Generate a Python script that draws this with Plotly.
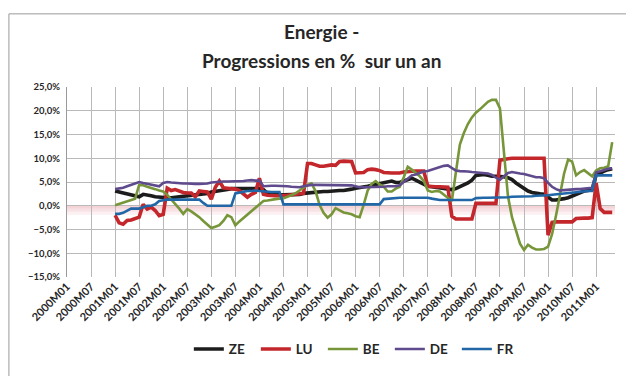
import plotly.graph_objects as go

# Monthly category labels, 2000M01 .. 2011M05
months = [f"{y}M{m:02d}" for y in range(2000, 2012) for m in range(1, 13)][:137]
tick_labels = months[::6]          # 2000M01, 2000M07, ... 2011M01
first_obs = months.index("2001M01")

# Year-on-year change in energy prices (%), monthly from 2001M01
ze = [
    3.1, 2.9, 2.7, 2.5, 2.3, 2.1, 1.9, 2.4, 2.3, 2.1, 1.9, 1.8,   # 2001
    1.8, 1.7, 1.7, 1.8, 1.9, 2.1, 2.2, 2.3, 2.3, 2.4, 2.5, 2.6,   # 2002
    2.9, 3.0, 3.2, 3.3, 3.4, 3.6, 3.6, 3.5, 3.5, 3.6, 3.6, 3.6,   # 2003
    3.6, 3.4, 2.6, 2.4, 2.3, 2.3, 2.3, 2.3, 2.3, 2.3, 2.4, 2.6,   # 2004
    2.7, 2.8, 2.9, 2.9, 3.0, 3.0, 3.1, 3.2, 3.2, 3.2, 3.3, 3.5,   # 2005
    3.7, 3.8, 3.9, 4.1, 4.3, 4.5, 4.6, 4.8, 5.1, 5.2, 4.9, 4.9,   # 2006
    5.2, 5.6, 5.8, 5.4, 4.9, 4.6, 4.1, 4.0, 3.9, 3.8, 3.7, 3.6,   # 2007
    3.4, 3.6, 4.0, 4.3, 4.8, 5.4, 6.4, 6.5, 6.6, 6.4, 6.2, 6.2,   # 2008
    6.2, 6.1, 5.9, 5.5, 4.8, 4.2, 3.5, 3.1, 2.8, 2.6, 2.5, 2.4,   # 2009
    1.9, 1.2, 1.2, 1.3, 1.5, 1.7, 2.1, 2.4, 2.8, 3.1, 3.2, 3.4,   # 2010
    6.5, 7.0, 7.3, 7.6, 7.8,                                      # 2011
]
lu = [
    -2.0, -3.6, -3.9, -3.1, -3.0, -2.7, -2.4, 0.3, -0.7, -0.3, -1.0, -2.1,
    -1.8, 3.7, 3.2, 3.4, 3.1, 2.8, 2.7, 2.7, 1.9, 3.1, 3.0, 2.9,
    1.4, 3.9, 5.2, 3.8, 3.7, 3.6, 3.5, 3.2, 2.4, 1.8, 2.4, 2.8,
    5.8, 2.4, 2.2, 2.1, 2.1, 2.1, 2.1, 2.2, 2.3, 2.4, 2.5, 2.6,
    8.9, 8.9, 8.6, 8.3, 8.3, 8.5, 8.6, 8.5, 9.3, 9.4, 9.4, 9.3,
    6.9, 6.9, 7.0, 7.6, 7.7, 7.6, 7.4, 7.0, 6.9, 6.9, 6.9, 6.9,
    7.1, 7.2, 7.2, 7.3, 7.3, 7.3, 4.1, 4.0, 4.0, 4.0, 4.0, 3.9,
    -2.2, -2.8, -2.8, -2.8, -2.8, -2.8, 0.5, 0.5, 0.5, 0.5, 0.5, 0.5,
    9.6, 9.8, 9.9, 10.0, 10.0, 10.0, 10.0, 10.0, 10.0, 10.0, 10.0, 10.0,
    -6.2, -3.5, -3.4, -3.4, -3.4, -3.4, -3.4, -2.7, -2.6, -2.6, -2.6, -2.5,
    4.8, -0.6, -1.4, -1.4, -1.4,
]
be = [
    0.1, 0.4, 0.7, 1.0, 1.3, 1.5, 4.4, 4.3, 4.0, 3.8, 3.5, 3.2,
    3.0, 2.3, 1.4, 0.3, -0.6, -1.7, -0.7, -1.2, -1.8, -2.4, -3.2, -4.0,
    -4.7, -4.4, -4.1, -3.2, -2.0, -2.4, -4.1, -3.3, -2.6, -1.9, -1.2, -0.6,
    0.3, 1.0, 1.1, 1.3, 1.4, 1.5, 1.6, 1.9, 2.2, 2.6, 3.2, 3.9,
    4.4, 4.7, 3.1, 0.2, -1.5, -2.5, -1.8, -0.5, -1.0, -1.4, -1.6, -1.8,
    -2.2, -2.4, 0.2, 3.2, 4.6, 5.2, 4.5, 4.0, 3.0, 3.0, 3.6, 4.0,
    6.0, 8.2, 7.6, 6.9, 6.2, 5.2, 3.2, 2.9, 3.1, 3.0, 2.3, 1.5,
    1.0, 7.0, 12.9, 15.3, 17.2, 18.6, 19.6, 20.3, 21.0, 21.9, 22.3, 22.3,
    20.5, 12.0, 2.0, -2.4, -5.0, -8.0, -9.3, -8.2, -8.8, -9.2, -9.2, -9.1,
    -8.6, -6.0, -2.0, 2.4, 6.8, 9.7, 9.3, 6.4, 7.1, 7.5, 6.9, 6.2,
    7.4, 7.9, 8.0, 8.3, 13.4,
]
de = [
    3.5, 3.6, 3.8, 4.1, 4.4, 4.8, 5.0, 4.8, 4.6, 4.5, 4.3, 4.1,
    4.8, 5.0, 4.9, 4.8, 4.8, 4.7, 4.7, 4.6, 4.6, 4.6, 4.6, 4.7,
    4.9, 5.0, 5.1, 5.1, 5.1, 5.1, 5.1, 5.1, 5.2, 5.3, 5.4, 5.3,
    5.3, 4.1, 4.2, 4.2, 4.2, 4.2, 4.2, 4.1, 4.0, 3.9, 3.9, 4.1,
    4.3, 4.4, 4.4, 4.4, 4.4, 4.4, 4.4, 4.4, 4.4, 4.4, 4.4, 4.3,
    4.1, 3.9, 3.9, 3.9, 4.0, 4.0, 4.0, 4.0, 4.1, 4.1, 4.1, 4.3,
    5.0, 5.9, 6.4, 6.6, 6.9, 7.2, 7.3, 7.6, 7.9, 8.1, 8.4, 8.5,
    7.9, 7.4, 7.3, 7.3, 7.2, 7.1, 7.0, 7.0, 6.9, 6.8, 6.5, 5.9,
    5.5, 6.3, 6.9, 7.1, 6.9, 6.8, 6.7, 6.5, 6.2, 6.0, 6.0, 5.8,
    4.8, 4.0, 3.5, 3.2, 3.3, 3.4, 3.4, 3.5, 3.5, 3.6, 3.6, 3.8,
    7.0, 7.3, 7.6, 7.8, 7.9,
]
fr = [
    -1.7, -1.7, -1.5, -1.0, -0.6, -0.6, -0.6, -0.3, 0.0, 0.0, 0.3, 1.0,
    1.2, 1.3, 1.3, 1.3, 1.3, 1.3, 1.3, 1.3, 1.3, 1.3, 0.6, 0.0,
    0.0, 0.0, 0.0, 0.0, 0.0, 0.0, 2.6, 2.8, 3.0, 3.1, 3.1, 3.2,
    3.1, 3.0, 2.9, 2.9, 2.9, 2.9, 0.3, 0.3, 0.3, 0.3, 0.3, 0.3,
    0.3, 0.3, 0.3, 0.3, 0.3, 0.3, 0.3, 0.3, 0.3, 0.3, 0.3, 0.3,
    0.3, 0.3, 0.3, 0.3, 0.3, 0.3, 0.3, 1.4, 1.5, 1.6, 1.7, 1.7,
    1.7, 1.7, 1.7, 1.7, 1.7, 1.7, 1.7, 1.5, 1.3, 1.2, 1.2, 1.2,
    1.2, 1.2, 1.2, 1.2, 1.2, 1.2, 1.6, 1.7, 1.7, 1.7, 1.7, 1.8,
    1.8, 1.8, 1.8, 1.9, 1.9, 2.0, 2.0, 2.0, 2.0, 2.1, 2.1, 2.1,
    2.2, 2.3, 2.4, 2.5, 2.6, 2.7, 2.8, 2.9, 3.0, 3.0, 3.1, 3.1,
    6.4, 6.4, 6.4, 6.4, 6.4,
]

series = [
    ("ZE", ze, "#1c1c1c", 3.6),
    ("LU", lu, "#c3262b", 3.6),
    ("BE", be, "#77963a", 2.6),
    ("DE", de, "#5e4a8c", 2.6),
    ("FR", fr, "#2166a6", 2.6),
]

FONT = "Lato"
x_idx = list(range(len(months)))
tick_pos = [months.index(t) for t in tick_labels]
x_max = len(months) - 1 + 0.7

fig = go.Figure()
for name, vals, color, width in series:
    y = [None] * first_obs + vals
    fig.add_trace(go.Scatter(
        x=x_idx, y=y, name=name, mode="lines",
        line=dict(color=color, width=width),
        customdata=months, hovertemplate="%{customdata}: %{y:.1f}%<extra>" + name + "</extra>",
    ))

fig.update_layout(
    width=626, height=376,
    margin=dict(l=67, r=11, t=87, b=97),
    paper_bgcolor="white", plot_bgcolor="white",
    separators=", ",
    font=dict(family=FONT, color="#262626"),
    showlegend=True,
    legend=dict(
        orientation="h", x=0.528, xanchor="center", y=-0.38, yanchor="middle",
        font=dict(family=FONT, size=13.5, color="#262626", weight=700),
        entrywidth=22, entrywidthmode="pixels", bgcolor="rgba(0,0,0,0)",
    ),
    xaxis=dict(
        range=[0, x_max], tickmode="array", tickvals=tick_pos, ticktext=tick_labels,
        tickangle=-45, tickfont=dict(family=FONT, size=11, color="#262626", weight=700),
        showgrid=True, gridcolor="#b9b9b9", gridwidth=1,
        zeroline=False, showline=False, ticks="",
    ),
    xaxis2=dict(
        overlaying="x", anchor="free", position=0.375, side="bottom",
        range=[0, x_max], tickmode="array", tickvals=tick_pos,
        showticklabels=False, showgrid=False, zeroline=False,
        showline=True, linecolor="#000000", linewidth=3,
        ticks="outside", ticklen=3, tickwidth=3, tickcolor="#000000",
    ),
    yaxis=dict(
        range=[-15, 25], dtick=5, tickformat=".1f", ticksuffix="%",
        tickfont=dict(family=FONT, size=9.5, color="#262626", weight=700),
        showgrid=True, gridcolor="#b9b9b9", gridwidth=1,
        zeroline=False, showline=True, linecolor="#9a9a9a", linewidth=1,
        ticks="outside", ticklen=4, tickcolor="rgba(0,0,0,0)",
    ),
)

# soft pink shadow under the zero axis
for y0, y1, a in [(0, -0.6, 0.32), (-0.6, -1.2, 0.22), (-1.2, -1.9, 0.11)]:
    fig.add_shape(type="rect", xref="paper", yref="y", x0=0, x1=1, y0=y0, y1=y1,
                  fillcolor=f"rgba(225,120,135,{a})", line=dict(width=0), layer="between")

# chart-area frame
fig.add_shape(type="rect", xref="paper", yref="paper",
              x0=-0.106, x1=1.3, y0=-1.0, y1=1.385,
              line=dict(color="#9a9a9a", width=1), fillcolor="rgba(0,0,0,0)")

# two-line title
for txt, yy in [("Energie -", 1.29), ("Progressions en %\u00a0 sur un an", 1.14)]:
    fig.add_annotation(text=txt, xref="paper", yref="paper", x=0.465, y=yy,
                       xanchor="center", yanchor="middle", showarrow=False,
                       font=dict(family=FONT, size=19, color="#262626", weight=700))

fig.write_html("out.html")
